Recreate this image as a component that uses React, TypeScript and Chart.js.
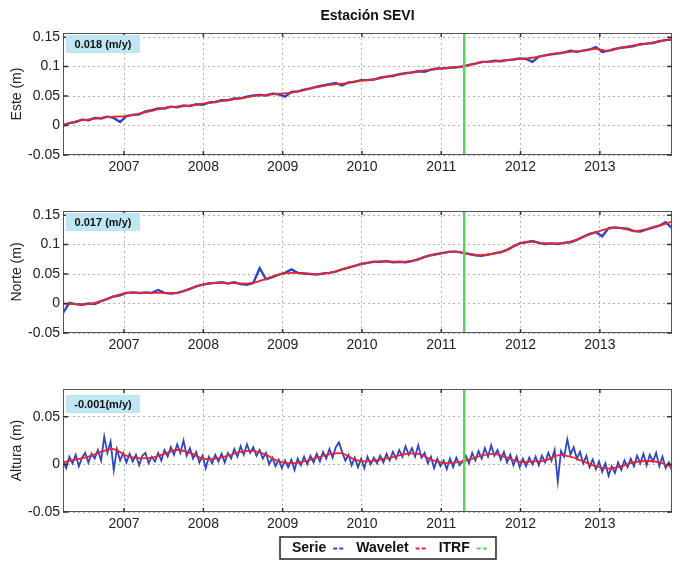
import React, { useEffect, useRef } from 'react';
import { Chart, registerables } from 'chart.js';

Chart.register(...registerables);

// ---------- data ----------
const T_START = 2006.23;
const T_END = 2013.91;
const SERIE_STEP = 0.08;
const ALTURA_STEP = 0.04;
const WAVELET_STEP = 0.16;
const ITRF_EPOCH = 2011.29;
const Y_MIN = -0.05;
const YEAR_TICKS = [2007, 2008, 2009, 2010, 2011, 2012, 2013];
const EN_TICKS = [-0.05, 0, 0.05, 0.1, 0.15];
const U_TICKS = [-0.05, 0, 0.05];

const ESTE_SERIE = [
  0.000, 0.004, 0.006, 0.010, 0.009, 0.013, 0.012, 0.015, 0.013, 0.006,
  0.016, 0.018, 0.019, 0.024, 0.026, 0.029, 0.029, 0.032, 0.031, 0.034,
  0.033, 0.036, 0.035, 0.039, 0.040, 0.043, 0.043, 0.046, 0.046, 0.049,
  0.051, 0.052, 0.051, 0.054, 0.053, 0.049, 0.057, 0.058, 0.061, 0.063,
  0.066, 0.068, 0.070, 0.072, 0.068, 0.073, 0.074, 0.077, 0.077, 0.078,
  0.081, 0.083, 0.084, 0.087, 0.089, 0.090, 0.092, 0.091, 0.095, 0.097,
  0.097, 0.098, 0.099, 0.100, 0.103, 0.105, 0.108, 0.108, 0.110, 0.109,
  0.111, 0.112, 0.114, 0.113, 0.108, 0.117, 0.119, 0.121, 0.122, 0.124,
  0.127, 0.125, 0.127, 0.129, 0.133, 0.125, 0.127, 0.130, 0.132, 0.133,
  0.135, 0.138, 0.139, 0.140, 0.143, 0.145, 0.146,
];
const ESTE_WAVELET = [
  0.001, 0.007, 0.010, 0.013, 0.015, 0.016, 0.020, 0.025, 0.030, 0.032,
  0.034, 0.037, 0.040, 0.043, 0.046, 0.050, 0.052, 0.054, 0.056, 0.060,
  0.065, 0.069, 0.071, 0.075, 0.077, 0.080, 0.085, 0.088, 0.092, 0.095,
  0.097, 0.099, 0.102, 0.107, 0.109, 0.111, 0.113, 0.115, 0.119, 0.123,
  0.125, 0.127, 0.130, 0.127, 0.132, 0.136, 0.139, 0.143, 0.147,
];

const NORTE_SERIE = [
  -0.016, 0.001, -0.001, -0.002, 0.000, -0.001, 0.004, 0.008, 0.012, 0.014,
  0.018, 0.019, 0.018, 0.019, 0.018, 0.023, 0.018, 0.017, 0.018, 0.021,
  0.025, 0.029, 0.032, 0.034, 0.035, 0.036, 0.034, 0.036, 0.033, 0.032,
  0.035, 0.060, 0.041, 0.045, 0.049, 0.052, 0.058, 0.052, 0.051, 0.050,
  0.049, 0.051, 0.052, 0.054, 0.058, 0.061, 0.064, 0.067, 0.069, 0.071,
  0.071, 0.072, 0.070, 0.071, 0.070, 0.072, 0.075, 0.079, 0.082, 0.084,
  0.086, 0.088, 0.088, 0.086, 0.084, 0.082, 0.081, 0.083, 0.085, 0.087,
  0.091, 0.097, 0.102, 0.104, 0.106, 0.103, 0.101, 0.102, 0.101, 0.103,
  0.104, 0.108, 0.113, 0.118, 0.121, 0.114, 0.128, 0.129, 0.128, 0.127,
  0.123, 0.122, 0.126, 0.129, 0.132, 0.138, 0.128,
];
const NORTE_WAVELET = [
  0.000, -0.001, -0.001, 0.004, 0.012, 0.018, 0.018, 0.018, 0.018, 0.018,
  0.025, 0.032, 0.035, 0.035, 0.034, 0.035, 0.042, 0.049, 0.052, 0.051,
  0.050, 0.052, 0.058, 0.064, 0.069, 0.071, 0.071, 0.071, 0.075, 0.082,
  0.086, 0.088, 0.084, 0.082, 0.085, 0.091, 0.102, 0.105, 0.102, 0.102,
  0.105, 0.113, 0.121, 0.127, 0.128, 0.123, 0.126, 0.132, 0.139,
];

const ALTURA_SERIE = [
  0.003, -0.004, 0.008, 0.001, 0.010, -0.002, 0.007, 0.012, 0.002, 0.011,
  0.006, 0.015, 0.004, 0.029, 0.012, 0.024, -0.006, 0.016, 0.004, 0.012,
  0.002, 0.011, 0.003, 0.010, -0.001, 0.009, 0.012, 0.001, 0.008, 0.003,
  0.012, 0.004, 0.015, 0.008, 0.018, 0.010, 0.021, 0.012, 0.025, 0.009,
  0.017, 0.006, 0.013, 0.002, 0.009, -0.004, 0.008, 0.001, 0.010, 0.003,
  0.011, 0.002, 0.012, 0.006, 0.016, 0.008, 0.019, 0.010, 0.021, 0.012,
  0.018, 0.009, 0.015, 0.006, 0.012, 0.000, 0.007, -0.002, 0.005, -0.004,
  0.004, -0.003, 0.005, -0.006, 0.006, -0.001, 0.008, 0.000, 0.009, 0.002,
  0.011, 0.003, 0.013, 0.006, 0.016, 0.007, 0.018, 0.023, 0.013, 0.004,
  0.010, -0.001, 0.007, -0.003, 0.006, -0.004, 0.008, 0.000, 0.007, 0.001,
  0.009, 0.002, 0.011, 0.004, 0.013, 0.006, 0.015, 0.008, 0.019, 0.010,
  0.017, 0.008, 0.020, 0.007, 0.012, 0.001, 0.008, -0.004, 0.006, -0.002,
  0.004, -0.005, 0.006, -0.003, 0.007, -0.001, 0.003, 0.009, 0.001, 0.012,
  0.004, 0.014, 0.006, 0.017, 0.008, 0.020, 0.009, 0.015, 0.005, 0.013,
  0.002, 0.010, -0.001, 0.008, -0.003, 0.006, -0.002, 0.007, 0.000, 0.008,
  -0.001, 0.009, 0.002, 0.012, 0.004, 0.015, -0.018, 0.014, 0.008, 0.026,
  0.010, 0.018, 0.006, 0.013, 0.001, 0.009, -0.003, 0.005, -0.005, 0.003,
  -0.008, 0.001, -0.012, -0.002, -0.009, 0.002, -0.006, 0.004, -0.003, 0.006,
  -0.002, 0.009, 0.001, 0.011, -0.001, 0.010, 0.003, 0.012, -0.002, 0.008,
  -0.004, 0.002, -0.007,
];
const ALTURA_WAVELET = [
  0.002, 0.005, 0.008, 0.013, 0.016, 0.009, 0.0065, 0.007, 0.011, 0.015,
  0.012, 0.006, 0.006, 0.009, 0.013, 0.014, 0.010, 0.003, 0.001, 0.003,
  0.007, 0.0105, 0.0115, 0.005, 0.003, 0.005, 0.0075, 0.011, 0.011, 0.005,
  0.0015, 0.002, 0.005, 0.009, 0.011, 0.007, 0.0025, 0.003, 0.004, 0.0095,
  0.008, 0.003, -0.002, -0.0045, -0.002, 0.002, 0.0035, 0.002, -0.003,
];

// ---------- styles ----------
const FONT = '"Liberation Sans", Arial, Helvetica, sans-serif';
const BLUE = '#3045c0';
const RED = '#e8262b';
const GREEN = '#5fcf5f';
const GRID = '#b4b4b4';
const RATE_BG = '#bfe7f3';

Chart.defaults.font.family = FONT;

type PanelDef = {
  title?: string;
  yLabel: string;
  rate: string;
  yMax: number;
  yTicks: number[];
  serie: number[];
  serieStep: number;
  serieWidth: number;
  wavelet: number[];
  top: number;
  height: number;
  areaTop: number;
  areaBottom: number;
  rateDy: number;
  legend?: boolean;
};

const PANELS: PanelDef[] = [
  {
    title: 'Estación SEVI', yLabel: 'Este (m)', rate: '0.018 (m/y)', yMax: 0.157, yTicks: EN_TICKS,
    serie: ESTE_SERIE, serieStep: SERIE_STEP, serieWidth: 2.4, wavelet: ESTE_WAVELET,
    top: 0, height: 180, areaTop: 33, areaBottom: 155, rateDy: 2,
  },
  {
    yLabel: 'Norte (m)', rate: '0.017 (m/y)', yMax: 0.157, yTicks: EN_TICKS,
    serie: NORTE_SERIE, serieStep: SERIE_STEP, serieWidth: 2.4, wavelet: NORTE_WAVELET,
    top: 180, height: 180, areaTop: 31, areaBottom: 153, rateDy: 2,
  },
  {
    yLabel: 'Altura (m)', rate: '-0.001(m/y)', yMax: 0.079, yTicks: U_TICKS,
    serie: ALTURA_SERIE, serieStep: ALTURA_STEP, serieWidth: 1.8, wavelet: ALTURA_WAVELET,
    top: 360, height: 201, areaTop: 29, areaBottom: 152, rateDy: 6, legend: true,
  },
];

const LEGEND_ITEMS = [
  { label: 'Serie', color: BLUE },
  { label: 'Wavelet', color: RED },
  { label: 'ITRF', color: GREEN },
];

function makeBoxPlugin(def: PanelDef) {
  return {
    id: 'matlabBox',
    afterDatasetsDraw(chart: any) {
      const { ctx, chartArea: a, scales } = chart;
      ctx.save();
      ctx.strokeStyle = '#555';
      ctx.lineWidth = 1;
      ctx.strokeRect(a.left + 0.5, a.top + 0.5, a.right - a.left - 1, a.bottom - a.top - 1);
      ctx.strokeStyle = '#333';
      ctx.lineWidth = 1.5;
      ctx.beginPath();
      YEAR_TICKS.forEach((v) => {
        const x = scales.x.getPixelForValue(v);
        ctx.moveTo(x, a.bottom); ctx.lineTo(x, a.bottom - 4);
        ctx.moveTo(x, a.top); ctx.lineTo(x, a.top + 4);
      });
      def.yTicks.forEach((v) => {
        const y = scales.y.getPixelForValue(v);
        ctx.moveTo(a.left, y); ctx.lineTo(a.left + 5, y);
        ctx.moveTo(a.right, y); ctx.lineTo(a.right - 5, y);
      });
      ctx.stroke();
      // rate label
      const bx = a.left + 3, by = a.top + def.rateDy, bw = 74, bh = 18;
      ctx.fillStyle = RATE_BG;
      ctx.fillRect(bx, by, bw, bh);
      ctx.fillStyle = '#111';
      ctx.font = `bold 11px ${FONT}`;
      ctx.textAlign = 'center';
      ctx.textBaseline = 'middle';
      ctx.fillText(def.rate, bx + bw / 2, by + bh / 2 + 0.5);
      ctx.restore();
    },
    afterDraw(chart: any) {
      if (!def.legend) return;
      const { ctx } = chart;
      const lx = 280, ly = 177, lw = 216, lh = 22;
      ctx.save();
      ctx.fillStyle = '#ffffff';
      ctx.fillRect(lx, ly, lw, lh);
      ctx.strokeStyle = '#222';
      ctx.lineWidth = 1.5;
      ctx.strokeRect(lx, ly, lw, lh);
      ctx.font = `bold 14px ${FONT}`;
      ctx.textAlign = 'left';
      ctx.textBaseline = 'middle';
      let x = lx + 12;
      const cy = ly + lh / 2 + 0.5;
      LEGEND_ITEMS.forEach((it) => {
        ctx.fillStyle = '#111';
        ctx.fillText(it.label, x, cy);
        x += ctx.measureText(it.label).width + 7;
        ctx.strokeStyle = it.color;
        ctx.lineWidth = 2;
        ctx.setLineDash([4, 2]);
        ctx.beginPath();
        ctx.moveTo(x, cy); ctx.lineTo(x + 11, cy);
        ctx.stroke();
        ctx.setLineDash([]);
        x += 11 + 12;
      });
      ctx.restore();
    },
  };
}

function Panel({ def }: { def: PanelDef }) {
  const ref = useRef<HTMLCanvasElement>(null);
  useEffect(() => {
    const canvas = ref.current!;
    const serieData = def.serie.map((v, i) => ({ x: T_START + i * def.serieStep, y: v }));
    const waveData = def.wavelet.map((v, i) => ({ x: T_START + i * WAVELET_STEP, y: v }));
    const itrfData = [{ x: ITRF_EPOCH, y: Y_MIN }, { x: ITRF_EPOCH, y: def.yMax }];
    const titleH = 8 + 14 * 1.2;
    const chart = new Chart(canvas, {
      type: 'line',
      data: {
        datasets: [
          { label: 'ITRF', data: itrfData, borderColor: GREEN, borderWidth: 2.5, pointRadius: 0, order: 0 },
          { label: 'Wavelet', data: waveData, borderColor: RED, borderWidth: 1.8, pointRadius: 0, tension: 0.4, order: 1 },
          { label: 'Serie', data: serieData, borderColor: BLUE, borderWidth: def.serieWidth, pointRadius: 0, order: 2 },
        ],
      },
      options: {
        responsive: false,
        animation: false,
        events: [],
        layout: { padding: { top: def.title ? 0 : def.areaTop, left: 0, right: 3, bottom: 0 } },
        plugins: {
          legend: { display: false },
          tooltip: { enabled: false },
          title: def.title
            ? {
                display: true, text: def.title, fullSize: false, color: '#111',
                font: { size: 14, weight: 'bold', family: FONT },
                padding: { top: 8, bottom: def.areaTop - titleH },
              }
            : { display: false },
        },
        scales: {
          x: {
            type: 'linear', min: T_START, max: T_END,
            afterBuildTicks: (s: any) => { s.ticks = YEAR_TICKS.map((v) => ({ value: v })); },
            afterFit: (s: any) => { s.height = def.height - def.areaBottom; },
            ticks: { callback: (v: any) => String(v), padding: 4, font: { size: 14 }, color: '#222', autoSkip: false, maxRotation: 0 },
            grid: { color: GRID, lineWidth: 1, drawTicks: false },
            border: { display: false, dash: [2, 3] },
          },
          y: {
            type: 'linear', min: Y_MIN, max: def.yMax,
            afterBuildTicks: (s: any) => { s.ticks = def.yTicks.map((v) => ({ value: v })); },
            afterFit: (s: any) => { s.width = 63; },
            ticks: { callback: (v: any) => String(Number(Number(v).toFixed(2))), padding: 3, font: { size: 14 }, color: '#222' },
            grid: { color: GRID, lineWidth: 1, drawTicks: false },
            border: { display: false, dash: [2, 3] },
            title: { display: true, text: def.yLabel, font: { size: 14 }, color: '#222', padding: { top: 9, bottom: 0 } },
          },
        },
      } as any,
      plugins: [makeBoxPlugin(def)],
    });
    return () => chart.destroy();
  }, [def]);
  return (
    <canvas
      ref={ref}
      width={675}
      height={def.height}
      style={{ position: 'absolute', left: 0, top: def.top, width: 675, height: def.height }}
    />
  );
}

export default function App() {
  return (
    <div style={{ position: 'absolute', left: 0, top: 0, width: 675, height: 561, background: '#fff' }}>
      {PANELS.map((p, i) => (
        <Panel key={i} def={p} />
      ))}
    </div>
  );
}
